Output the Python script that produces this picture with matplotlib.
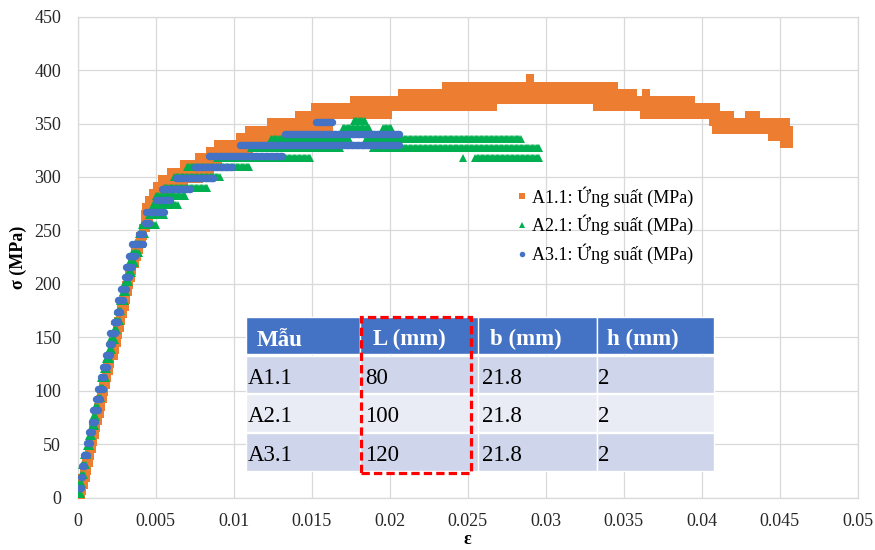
import numpy as np
import matplotlib
matplotlib.use("Agg")
import matplotlib.pyplot as plt
from matplotlib.patches import Rectangle

plt.rcParams['font.family'] = ['Liberation Serif', 'DejaVu Serif']

# ---------------------------------------------------------------------------
# Stress-strain records. Each entry is a run of strain readings logged at one
# stress level: (stress [MPa], first strain, last strain).
# ---------------------------------------------------------------------------
a1_stress = [0.5, 6, 12, 18.5, 25, 32, 38.5, 45, 52, 58.5, 65, 72, 78.5, 85, 92,
             98.5, 105, 112, 118.5, 125, 132, 138.5, 145, 152, 158.5, 165, 172,
             178.5, 185, 192, 198.5, 205, 212, 218.5, 225, 232, 238.5, 245, 252,
             258.5, 265, 272, 278.5, 285, 292, 298.5, 305, 312, 318.8, 324.4,
             331.3, 331.3, 337.5, 337.5, 344.4, 344.4, 351.0, 351.0, 358.4, 358.4,
             358.4, 365.6, 365.6, 371.8, 378.7, 378.7, 385.3, 392.8]
a1_eps_start = [0.0000, 0.0001, 0.0002, 0.0003, 0.0004, 0.0005, 0.0006, 0.0007,
                0.0008, 0.0009, 0.0010, 0.0011, 0.0012, 0.0013, 0.0014, 0.0015,
                0.0016, 0.0017, 0.0018, 0.0019, 0.0021, 0.0022, 0.0023, 0.0024,
                0.0025, 0.0026, 0.0027, 0.0028, 0.0029, 0.0030, 0.0031, 0.0032,
                0.0033, 0.0035, 0.0036, 0.0037, 0.0039, 0.0040, 0.0042, 0.0043,
                0.0043, 0.0044, 0.0046, 0.0048, 0.0051, 0.0054, 0.0060, 0.0068,
                0.0078, 0.0085, 0.0090, 0.0453, 0.0104, 0.0445, 0.0110, 0.0409,
                0.0124, 0.0407, 0.0142, 0.0363, 0.0430, 0.0152, 0.0333, 0.0177,
                0.0208, 0.0364, 0.0236, 0.0290]
a1_eps_end = [0.0002, 0.0003, 0.0004, 0.0005, 0.0006, 0.0007, 0.0008, 0.0009,
              0.0010, 0.0011, 0.0012, 0.0013, 0.0014, 0.0015, 0.0016, 0.0017,
              0.0018, 0.0019, 0.0020, 0.0021, 0.0023, 0.0024, 0.0025, 0.0026,
              0.0027, 0.0028, 0.0029, 0.0030, 0.0031, 0.0032, 0.0033, 0.0034,
              0.0035, 0.0037, 0.0038, 0.0039, 0.0041, 0.0042, 0.0044, 0.0046,
              0.0048, 0.0051, 0.0054, 0.0060, 0.0068, 0.0078, 0.0085, 0.0090,
              0.0104, 0.0110, 0.0124, 0.0456, 0.0142, 0.0456, 0.0161, 0.0456,
              0.0161, 0.0454, 0.0199, 0.0418, 0.0435, 0.0266, 0.0409, 0.0393,
              0.0356, 0.0364, 0.0344, 0.0290]

a2_stress = [3.5, 12.5, 21.5, 30.5, 39.5, 48.5, 57.5, 66.5, 75.5, 84.5, 93.5,
             102.5, 111.5, 120.5, 129.5, 138.5, 147.5, 156.5, 165.5, 174.5, 183.5,
             192.5, 201.5, 210.5, 219.5, 228.5, 237.5, 246.5, 255.5, 264.5, 274,
             282, 290, 300, 309, 317.6, 317.6, 317.6, 327, 327, 335.7, 335.7,
             345.7, 345.7, 352.5]
a2_eps_start = [0.0000, 0.0001, 0.0002, 0.0003, 0.0004, 0.0006, 0.0007, 0.0009,
                0.0010, 0.0011, 0.0013, 0.0014, 0.0015, 0.0017, 0.0018, 0.0020,
                0.0021, 0.0023, 0.0024, 0.0026, 0.0027, 0.0029, 0.0030, 0.0032,
                0.0033, 0.0035, 0.0037, 0.0039, 0.0041, 0.0046, 0.0048, 0.0050,
                0.0055, 0.0062, 0.0070, 0.0089, 0.0247, 0.0255, 0.0111, 0.0189,
                0.0124, 0.0185, 0.0170, 0.0196, 0.0177]
a2_eps_end = [0.0002, 0.0003, 0.0004, 0.0005, 0.0006, 0.0008, 0.0009, 0.0011,
              0.0012, 0.0013, 0.0015, 0.0016, 0.0018, 0.0019, 0.0021, 0.0022,
              0.0024, 0.0025, 0.0027, 0.0028, 0.0030, 0.0031, 0.0033, 0.0035,
              0.0037, 0.0039, 0.0041, 0.0043, 0.0050, 0.0055, 0.0064, 0.0069,
              0.0083, 0.0091, 0.0110, 0.0149, 0.0247, 0.0296, 0.0168, 0.0296,
              0.0174, 0.0284, 0.0187, 0.0201, 0.0184]

a3_stress = [8.6, 19.5, 29.5, 39.8, 50.7, 61, 71, 82, 92, 102, 112.5, 122.5,
             133.4, 143.7, 153.7, 164, 174, 185, 195, 206, 216, 226, 237, 247,
             257, 267.6, 278.6, 288.6, 299.4, 309.7, 320, 330, 340, 351]
a3_eps_start = [0.0001, 0.0002, 0.0003, 0.0004, 0.0006, 0.0007, 0.0009, 0.0010,
                0.0012, 0.0013, 0.0015, 0.0016, 0.0018, 0.0020, 0.0021, 0.0023,
                0.0025, 0.0026, 0.0028, 0.0030, 0.0031, 0.0033, 0.0035, 0.0039,
                0.0043, 0.0044, 0.0050, 0.0054, 0.0063, 0.0075, 0.0084, 0.0104,
                0.0133, 0.0153]
a3_eps_end = [0.0002, 0.0003, 0.0004, 0.0006, 0.0008, 0.0009, 0.0011, 0.0013,
              0.0014, 0.0016, 0.0017, 0.0019, 0.0021, 0.0022, 0.0024, 0.0026,
              0.0027, 0.0029, 0.0031, 0.0033, 0.0035, 0.0037, 0.0042, 0.0042,
              0.0046, 0.0055, 0.0059, 0.0072, 0.0087, 0.0099, 0.0131, 0.0206,
              0.0206, 0.0163]

series_labels = ["A1.1: Ứng suất (MPa)", "A2.1: Ứng suất (MPa)", "A3.1: Ứng suất (MPa)"]

x_ticks = [0, 0.005, 0.01, 0.015, 0.02, 0.025, 0.03, 0.035, 0.04, 0.045, 0.05]
x_tick_labels = ["0", "0.005", "0.01", "0.015", "0.02", "0.025", "0.03",
                 "0.035", "0.04", "0.045", "0.05"]
y_ticks = [0, 50, 100, 150, 200, 250, 300, 350, 400, 450]

# Specimen dimensions
table_header = ["Mẫu", "L (mm)", "b (mm)", "h (mm)"]
samples = ["A1.1", "A2.1", "A3.1"]
length_mm = ["80", "100", "120"]
width_mm = ["21.8", "21.8", "21.8"]
thick_mm = ["2", "2", "2"]

ORANGE = "#ED7D31"
GREEN = "#00B050"
BLUE = "#4472C4"


def run_points(stress, start, end, step=0.00008):
    """Place markers along every logged run so overlapping markers form the trace."""
    xs, ys = [], []
    for s, a, b in zip(stress, start, end):
        n = max(1, int(round((b - a) / step)) + 1)
        xs.extend(np.linspace(a, b, n))
        ys.extend([s] * n)
    return np.array(xs), np.array(ys)


W, H = 875, 550
fig = plt.figure(figsize=(W / 100, H / 100), dpi=100)
ax = fig.add_axes([77.7 / W, 1 - 497.5 / H, 780 / W, 480.8 / H])

ax.set_xlim(0, 0.05)
ax.set_ylim(0, 450)
ax.set_xticks(x_ticks)
ax.set_xticklabels(x_tick_labels)
ax.set_yticks(y_ticks)
ax.tick_params(length=0, labelsize=13, colors="#262626")
ax.tick_params(axis="x", pad=11)
ax.tick_params(axis="y", pad=12)
ax.grid(True, color="#D9D9D9", linewidth=0.9)
ax.set_axisbelow(True)
for sp in ax.spines.values():
    sp.set_color("#D9D9D9")
    sp.set_linewidth(0.9)

x1, y1 = run_points(a1_stress, a1_eps_start, a1_eps_end)
x2, y2 = run_points(a2_stress, a2_eps_start, a2_eps_end)
x3, y3 = run_points(a3_stress, a3_eps_start, a3_eps_end)

h1, = ax.plot(x1, y1, ls="none", marker="s", ms=5.6, mew=0, color=ORANGE,
              label=series_labels[0], zorder=3)
h2, = ax.plot(x2, y2, ls="none", marker="^", ms=5.9, mew=0, color=GREEN,
              label=series_labels[1], zorder=4)
h3, = ax.plot(x3, y3, ls="none", marker="o", ms=5.3, mew=0, color=BLUE,
              label=series_labels[2], zorder=5)

ax.set_xlabel("ε", fontsize=13, fontweight="bold", labelpad=1)
ax.set_ylabel("σ (MPa)", fontsize=13, fontweight="bold", labelpad=5)

fig.legend(handles=[h1, h2, h3], labels=series_labels, loc="upper left",
           bbox_to_anchor=(516.4 / W, 1 - 186.0 / H), frameon=False,
           fontsize=13, handlelength=0.6, handletextpad=0.25,
           labelspacing=0.45, borderpad=0, borderaxespad=0, markerscale=0.75)


# ---------------------------------------------------------------------------
# Specimen table drawn over the plot area (pixel layout of the figure)
# ---------------------------------------------------------------------------
def px_rect(x0, y0, x1, y1, **kw):
    r = Rectangle((x0 / W, 1 - y1 / H), (x1 - x0) / W, (y1 - y0) / H,
                  transform=fig.transFigure, **kw)
    fig.add_artist(r)
    return r


col_edges = [246, 359.5, 478.5, 597, 714]
row_edges = [(317.3, 354.3), (355.8, 393.0), (394.3, 432.0), (433.3, 470.7)]
row_colors = [BLUE, "#CFD5EA", "#E9EBF5", "#CFD5EA"]

for (ya, yb), colr in zip(row_edges, row_colors):
    for c in range(4):
        px_rect(col_edges[c], ya, col_edges[c + 1], yb, facecolor=colr,
                edgecolor="white", linewidth=1.0, zorder=6)

header_x = [256.7, 373, 490, 606.7]
for txt, xp in zip(table_header, header_x):
    fig.text(xp / W, 1 - 345.5 / H, txt, color="white", fontsize=16.5,
             fontweight="bold", va="baseline", ha="left", zorder=7)

body_x = [247.5, 365, 481.7, 598.3]
body_base = [384.5, 422.5, 461.0]
for i in range(3):
    row = [samples[i], length_mm[i], width_mm[i], thick_mm[i]]
    for txt, xp in zip(row, body_x):
        fig.text(xp / W, 1 - body_base[i] / H, txt, color="black",
                 fontsize=16.5, va="baseline", ha="left", zorder=7)

# dashed highlight around the length column
px_rect(361, 316.5, 470.5, 472.5, facecolor="none", edgecolor="#FF0000",
        linewidth=2.3, linestyle=(0, (2.6, 1.3)), zorder=8)

fig.savefig("out.png", dpi=100)
